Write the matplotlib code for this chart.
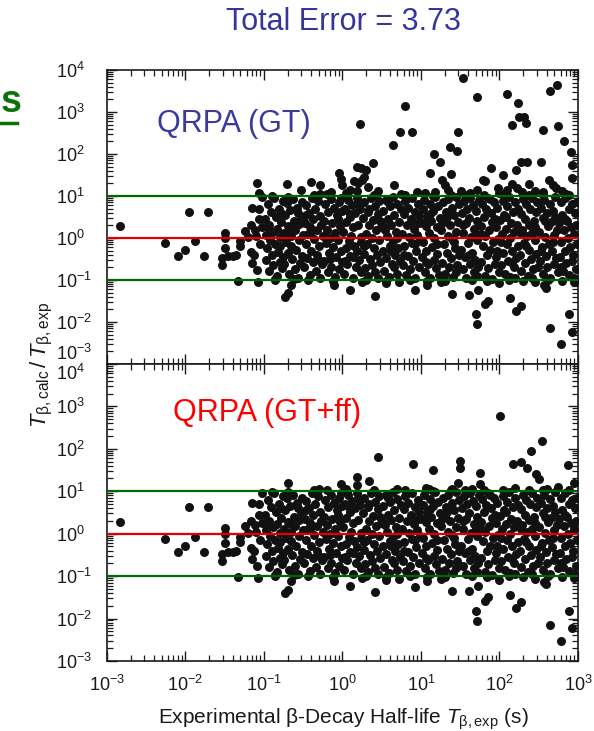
import numpy as np
import matplotlib
matplotlib.use('Agg')
import matplotlib.pyplot as plt
from matplotlib.ticker import LogLocator, NullFormatter

plt.rcParams['font.family'] = ['Liberation Sans', 'DejaVu Sans']
plt.rcParams['mathtext.fontset'] = 'custom'
plt.rcParams['mathtext.rm'] = 'Liberation Sans'
plt.rcParams['mathtext.it'] = 'Liberation Sans:italic'
plt.rcParams['mathtext.bf'] = 'Liberation Sans:bold'

# points as (log10 T_exp, log10 T_calc/T_exp)
# short-lived tail at the left, same in both calculations
left_pts = [
    (-2.83, 0.28), (-1.96, 0.62), (-1.71, 0.62), (-2.26, -0.12), (-2.09, -0.42),
    (-2.00, -0.28), (-1.88, -0.08), (-1.77, -0.43), (-1.50, 0.13), (-1.50, 0.00),
    (-1.50, -0.23), (-1.54, -0.47), (-1.54, -0.64), (-1.46, -0.44), (-1.40, -0.42),
    (-1.35, -0.41), (-1.30, -0.08), (-1.30, -0.20), (-1.33, -1.02), (-1.24, 0.17),
    (-1.17, 0.31), (-1.15, 0.72), (-1.16, -0.33), (-1.13, -0.40), (-1.15, -0.60),
    (-1.09, -0.76), (-1.08, -1.04), (-1.06, 0.70), (-1.06, 0.45), (-1.10, 0.05),
    (-1.05, -0.15), (-1.03, 0.25), (-1.12, 0.20), (-1.20, 0.02), (-1.02, 0.97),
]

# the dense band between 0.1 and 10
band_pts = [
    (-0.99, 0.45), (-0.98, -0.52), (-0.97, 0.08), (-0.96, -0.25), (-0.95, 0.80), (-0.94, -0.78),
    (-0.93, 0.30), (-0.92, -0.05), (-0.91, 0.62), (-0.90, -0.40), (-0.89, 0.15), (-0.88, -0.65),
    (-0.87, 0.95), (-0.86, -0.15), (-0.85, 0.50), (-0.84, -0.90), (-0.83, 0.22), (-0.82, -0.33),
    (-0.81, 0.70), (-0.80, -0.58), (-0.79, 0.02), (-0.78, 0.38), (-0.77, -0.72), (-0.76, 0.88),
    (-0.86, -0.98), (-0.90, 0.99), (-0.80, -0.20), (-0.95, 0.25), (-0.76, -0.45), (-0.78, 0.60),
    (-0.75, 0.12), (-0.74, -0.62), (-0.73, 0.55), (-0.72, -0.10), (-0.71, 0.83), (-0.70, -0.35),
    (-0.69, 0.28), (-0.68, -0.85), (-0.67, 0.66), (-0.66, -0.18), (-0.65, 0.04), (-0.64, -0.50),
    (-0.63, 0.92), (-0.62, 0.40), (-0.61, -0.75), (-0.60, 0.18), (-0.59, -0.28), (-0.58, 0.72),
    (-0.57, -0.95), (-0.56, 0.33), (-0.55, -0.05), (-0.54, -0.60), (-0.53, 0.50), (-0.52, 0.85),
    (-0.51, -0.42), (-0.50, 0.08), (-0.70, 0.98), (-0.62, -0.98), (-0.57, 0.60), (-0.66, 0.22),
    (-0.49, -0.70), (-0.48, 0.35), (-0.47, -0.15), (-0.46, 0.78), (-0.45, -0.48), (-0.44, 0.10),
    (-0.43, 0.60), (-0.42, -0.88), (-0.41, 0.25), (-0.40, -0.30), (-0.39, 0.95), (-0.38, -0.58),
    (-0.37, 0.45), (-0.36, -0.02), (-0.35, 0.70), (-0.34, -0.78), (-0.33, 0.18), (-0.32, -0.40),
    (-0.31, 0.88), (-0.30, -0.20), (-0.29, 0.52), (-0.28, -0.95), (-0.27, 0.30), (-0.26, -0.62),
    (-0.25, 0.05), (-0.44, -1.00), (-0.36, 1.02), (-0.30, -0.52), (-0.47, 0.55), (-0.40, 0.15),
    (-0.24, 0.40), (-0.23, -0.55), (-0.22, 0.80), (-0.21, -0.12), (-0.20, 0.20), (-0.19, -0.82),
    (-0.18, 0.62), (-0.17, -0.35), (-0.16, 0.00), (-0.15, 0.92), (-0.14, -0.68), (-0.13, 0.35),
    (-0.12, -0.22), (-0.11, 0.72), (-0.10, -0.92), (-0.09, 0.12), (-0.08, -0.45), (-0.07, 0.55),
    (-0.06, -0.05), (-0.05, 0.85), (-0.04, -0.75), (-0.03, 0.28), (-0.02, -0.30), (-0.01, 0.65),
    (0.00, -0.58), (-0.20, 1.04), (-0.12, -1.02), (-0.06, 0.45), (-0.16, -0.50), (-0.02, 0.95),
    (0.01, 0.15), (0.02, -0.85), (0.03, 0.70), (0.04, -0.25), (0.05, 0.38), (0.06, -0.62),
    (0.07, 0.90), (0.08, -0.08), (0.09, 0.50), (0.10, -0.42), (0.11, 0.05), (0.12, 0.78),
    (0.13, -0.95), (0.14, 0.25), (0.15, -0.18), (0.16, 0.60), (0.17, -0.70), (0.18, 0.95),
    (0.19, -0.32), (0.20, 0.32), (0.21, -0.52), (0.22, 0.68), (0.23, 0.02), (0.24, -0.80),
    (0.06, 1.00), (0.14, -0.45), (0.20, 0.82), (0.10, 0.58), (0.23, -0.10), (0.03, -0.55),
    (0.26, 0.48), (0.27, -0.38), (0.28, 0.85), (0.29, -0.72), (0.30, 0.10), (0.31, -0.15),
    (0.32, 0.62), (0.33, -0.90), (0.34, 0.30), (0.35, -0.50), (0.36, 0.95), (0.37, 0.00),
    (0.38, -0.65), (0.39, 0.42), (0.40, -0.25), (0.41, 0.75), (0.42, -0.82), (0.43, 0.18),
    (0.44, -0.40), (0.45, 0.58), (0.46, -0.05), (0.47, 0.88), (0.48, -0.58), (0.49, 0.25),
    (0.30, -1.00), (0.40, 1.03), (0.34, 0.70), (0.45, -0.95), (0.28, -0.20), (0.48, 0.40),
    (0.51, -0.30), (0.52, 0.65), (0.53, -0.78), (0.54, 0.20), (0.55, 0.90), (0.56, -0.48),
    (0.57, 0.05), (0.58, 0.45), (0.59, -0.92), (0.60, 0.75), (0.61, -0.18), (0.62, 0.32),
    (0.63, -0.62), (0.64, 0.98), (0.65, -0.08), (0.66, 0.55), (0.67, -0.40), (0.68, 0.15),
    (0.69, -0.85), (0.70, 0.82), (0.71, -0.25), (0.72, 0.38), (0.73, -0.55), (0.74, 0.68),
    (0.55, -1.02), (0.62, -0.30), (0.70, 0.00), (0.58, 0.85), (0.66, -0.70), (0.52, 0.28),
    (0.76, 0.10), (0.77, -0.65), (0.78, 0.58), (0.79, -0.20), (0.80, 0.88), (0.81, -0.88),
    (0.82, 0.30), (0.83, -0.42), (0.84, 0.72), (0.85, 0.02), (0.86, -0.75), (0.87, 0.45),
    (0.88, -0.12), (0.89, 0.95), (0.90, -0.55), (0.91, 0.22), (0.92, -0.95), (0.93, 0.62),
    (0.94, -0.32), (0.95, 0.08), (0.96, 0.80), (0.97, -0.68), (0.98, 0.35), (0.99, -0.05),
    (0.80, 1.02), (0.86, -1.00), (0.93, -0.15), (0.78, -0.40), (0.97, 0.52), (0.88, 0.40),
    (1.01, -0.45), (1.02, 0.68), (1.03, -0.10), (1.04, 0.90), (1.05, -0.80), (1.06, 0.28),
    (1.07, -0.30), (1.08, 0.52), (1.09, -0.62), (1.10, 0.12), (1.11, 0.82), (1.12, -0.95),
    (1.13, 0.40), (1.14, -0.22), (1.15, 0.65), (1.16, -0.52), (1.17, 0.00), (1.18, 0.98),
    (1.19, -0.72), (1.20, 0.25), (1.21, -0.38), (1.22, 0.75), (1.23, -0.88), (1.24, 0.48),
    (1.08, -1.02), (1.15, 1.00), (1.03, 0.35), (1.20, -0.15), (1.12, 0.58), (1.06, -0.58),
    (1.26, 0.18), (1.27, -0.60), (1.28, 0.85), (1.29, -0.15), (1.30, 0.42), (1.31, -0.85),
    (1.32, 0.62), (1.33, -0.35), (1.34, 0.05), (1.35, 0.92), (1.36, -0.70), (1.37, 0.30),
    (1.38, -0.48), (1.39, 0.72), (1.40, -0.02), (1.41, -0.92), (1.42, 0.55), (1.43, -0.25),
    (1.44, 0.98), (1.45, 0.15), (1.46, -0.65), (1.47, 0.38), (1.48, -0.40), (1.49, 0.80),
    (1.30, -1.03), (1.38, 1.02), (1.45, -0.80), (1.33, 0.50), (1.27, 0.35), (1.42, -0.10),
    (1.51, -0.28), (1.52, 0.60), (1.53, -0.75), (1.54, 0.12), (1.55, 0.88), (1.56, -0.45),
    (1.57, 0.35), (1.58, -0.95), (1.59, 0.70), (1.60, -0.12), (1.61, 0.48), (1.62, -0.62),
    (1.63, 0.95), (1.64, 0.02), (1.65, -0.35), (1.66, 0.78), (1.67, -0.82), (1.68, 0.22),
    (1.69, -0.52), (1.70, 0.65), (1.71, -0.05), (1.72, 0.40), (1.73, -0.70), (1.74, 0.90),
    (1.56, 1.02), (1.65, -1.00), (1.70, 0.10), (1.53, 0.30), (1.61, -0.40), (1.72, -0.90),
    (1.76, 0.28), (1.77, -0.58), (1.78, 0.82), (1.79, -0.18), (1.80, 0.50), (1.81, -0.90),
    (1.82, 0.05), (1.83, 0.68), (1.84, -0.40), (1.85, 0.95), (1.86, -0.72), (1.87, 0.18),
    (1.88, -0.28), (1.89, 0.60), (1.90, -0.98), (1.91, 0.38), (1.92, -0.10), (1.93, 0.85),
    (1.94, -0.62), (1.95, 0.25), (1.96, -0.45), (1.97, 0.72), (1.98, -0.02), (1.99, -0.80),
    (1.80, 1.03), (1.88, 0.92), (1.94, 0.45), (1.84, -1.02), (1.77, 0.10), (1.97, -0.30),
    (2.01, 0.42), (2.02, -0.65), (2.03, 0.10), (2.04, 0.88), (2.05, -0.35), (2.06, 0.55),
    (2.07, -0.85), (2.08, 0.22), (2.09, -0.15), (2.10, 0.75), (2.11, -0.55), (2.12, 0.98),
    (2.13, 0.00), (2.14, -0.92), (2.15, 0.35), (2.16, -0.30), (2.17, 0.62), (2.18, -0.70),
    (2.19, 0.15), (2.20, 0.85), (2.21, -0.48), (2.22, 0.30), (2.23, -0.20), (2.24, 0.68),
    (2.05, 1.02), (2.12, -1.00), (2.20, -0.95), (2.08, 0.50), (2.16, -0.60), (2.02, -0.10),
    (2.26, -0.40), (2.27, 0.58), (2.28, -0.78), (2.29, 0.20), (2.30, 0.92), (2.31, -0.12),
    (2.32, 0.45), (2.33, -0.60), (2.34, 0.80), (2.35, 0.05), (2.36, -0.90), (2.37, 0.32),
    (2.38, -0.28), (2.39, 0.70), (2.40, -0.50), (2.41, 0.12), (2.42, 0.95), (2.43, -0.75),
    (2.44, 0.40), (2.45, -0.05), (2.46, 0.62), (2.47, -0.38), (2.48, 0.85), (2.49, -0.68),
    (2.30, -1.02), (2.38, 1.03), (2.45, 0.25), (2.34, -0.20), (2.27, 0.10), (2.42, -0.95),
    (2.51, 0.15), (2.52, -0.55), (2.53, 0.72), (2.54, -0.22), (2.55, 0.48), (2.56, -0.85),
    (2.57, 0.90), (2.58, 0.02), (2.59, -0.42), (2.60, 0.60), (2.61, -0.70), (2.62, 0.28),
    (2.63, -0.15), (2.64, 0.82), (2.65, -0.95), (2.66, 0.38), (2.67, -0.32), (2.68, 0.65),
    (2.69, 0.08), (2.70, -0.62), (2.71, 0.98), (2.72, -0.48), (2.73, 0.20), (2.74, -0.80),
    (2.55, 1.02), (2.62, -1.00), (2.68, -0.10), (2.58, 0.40), (2.71, 0.50), (2.53, -0.30),
    (2.76, 0.35), (2.77, -0.45), (2.78, 0.85), (2.79, -0.10), (2.80, 0.55), (2.81, -0.78),
    (2.82, 0.18), (2.83, -0.30), (2.84, 0.95), (2.85, -0.60), (2.86, 0.40), (2.87, 0.00),
    (2.88, -0.88), (2.89, 0.70), (2.90, -0.22), (2.91, 0.25), (2.92, -0.55), (2.93, 0.80),
    (2.94, -0.40), (2.95, 0.10), (2.96, 0.60), (2.97, -0.75), (2.98, 0.30), (2.99, -0.15),
    (2.80, -1.02), (2.88, 1.02), (2.95, -0.95), (2.84, 0.45), (2.78, -0.70), (2.99, 0.85),
]

# too-short predictions (below 0.1), same in both calculations
low_pts = [
    (-0.86, -1.00), (-0.73, -1.40), (-0.70, -1.32), (-0.66, -1.12), (-0.11, -1.12),
    (0.10, -1.24), (0.42, -1.37), (0.55, -1.08), (0.93, -1.25), (1.08, -1.12),
    (1.40, -1.34), (1.61, -1.36), (1.73, -1.24), (1.81, -1.58), (1.85, -1.50),
    (1.70, -1.82), (1.71, -2.06), (2.14, -1.44), (2.21, -1.74), (2.27, -1.61),
    (2.59, -1.19), (2.57, -1.13), (2.89, -1.82), (2.93, -2.23), (2.65, -2.15),
    (2.79, -2.53), (0.25, -1.05), (0.72, -1.06), (1.25, -1.06), (2.00, -1.08),
    (2.45, -1.06), (2.95, -1.05),
]

# too-long predictions, GT only
gt_high_pts = [
    (-1.09, 1.30), (-1.06, 1.07), (-0.71, 1.28), (-0.40, 1.34), (-0.28, 1.26),
    (-0.53, 1.14), (-0.29, 1.05), (-0.05, 1.55), (-0.02, 1.40), (0.00, 1.26),
    (0.19, 1.70), (0.23, 1.66), (0.30, 1.62), (0.39, 1.79), (0.33, 1.22),
    (0.66, 1.26), (0.22, 2.71), (0.80, 3.15), (0.73, 2.53), (0.89, 2.53),
    (0.64, 2.21), (0.15, 1.35), (0.20, 1.30), (0.25, 1.38), (0.28, 1.45),
    (0.10, 1.15), (0.18, 1.12), (0.05, 1.08), (0.45, 1.12), (-0.15, 1.10),
    (0.75, 1.05), (0.95, 1.10), (1.54, 3.80), (1.72, 3.35), (2.10, 3.42),
    (2.23, 3.21), (2.25, 2.89), (2.31, 2.89), (2.34, 2.74), (2.16, 2.69),
    (2.65, 3.49), (2.73, 3.63), (2.56, 2.56), (2.75, 2.67), (2.82, 2.31),
    (2.91, 2.05), (2.93, 1.74), (2.93, 1.42), (1.47, 2.53), (1.37, 2.17),
    (1.46, 2.07), (1.17, 1.99), (1.24, 1.80), (1.12, 1.54), (1.38, 1.52),
    (1.27, 1.38), (1.30, 1.26), (1.34, 1.14), (1.51, 1.12), (1.89, 1.66),
    (2.04, 1.50), (1.79, 1.38), (1.81, 1.35), (2.27, 1.82), (2.35, 1.82),
    (2.21, 1.62), (2.53, 1.82), (1.98, 1.20), (2.10, 1.15), (2.16, 1.28),
    (2.22, 1.18), (2.29, 1.10), (2.38, 1.29), (2.63, 1.38), (2.68, 1.25),
    (2.72, 1.19), (2.85, 1.05), (1.62, 1.08), (1.72, 1.15), (2.45, 1.12),
    (2.00, 1.08), (1.05, 1.08), (1.18, 1.10), (2.55, 1.10), (2.80, 1.12),
]

# too-long predictions, GT+ff only
ff_high_pts = [
    (0.45, 1.81), (0.90, 1.64), (-0.69, 1.20), (-0.02, 1.18), (0.18, 1.34),
    (0.19, 1.14), (0.34, 1.25), (2.01, 2.78), (2.54, 2.18), (2.40, 1.95),
    (2.17, 1.64), (2.27, 1.70), (2.35, 1.55), (2.47, 1.40), (2.50, 1.30),
    (2.87, 1.62), (1.50, 1.72), (1.50, 1.55), (1.15, 1.50), (1.75, 1.42),
    (1.75, 1.16), (1.47, 1.20), (1.07, 1.08), (1.10, 1.05), (1.40, 1.05),
    (1.65, 1.06), (2.20, 1.08), (2.60, 1.05), (0.70, 1.05), (0.05, 1.06),
    (-0.30, 1.05), (2.75, 1.10), (2.95, 1.20),
]

panels = [
    ('QRPA (GT)', '#3a3a9c', left_pts + band_pts + low_pts + gt_high_pts),
    ('QRPA (GT+ff)', '#ff0000', left_pts + band_pts + low_pts + ff_high_pts),
]

fig = plt.figure(figsize=(5.94, 7.31), dpi=100)
ax_top = fig.add_axes([0.1801, 0.5021, 0.7929, 0.4022])
ax_bot = fig.add_axes([0.1801, 0.0958, 0.7929, 0.4063])
yticks = 10.0 ** np.arange(-3, 5)
xticks = 10.0 ** np.arange(-3, 4)

for ax, (name, col, pts), tx, ty in zip([ax_top, ax_bot], panels, [0.106, 0.140], [0.816, 0.835]):
    lx, ly = np.array(pts).T
    ax.scatter(10 ** lx, 10 ** ly, s=42, c='#111111', linewidths=0, zorder=3)
    ax.axhline(10, color='#006600', lw=1.6, zorder=4)
    ax.axhline(1, color='#e00000', lw=1.6, zorder=4)
    ax.axhline(0.1, color='#006600', lw=1.6, zorder=4)
    ax.set_xscale('log')
    ax.set_yscale('log')
    ax.set_xlim(1e-3, 1e3)
    ax.set_ylim(1e-3, 1e4)
    ax.set_xticks(xticks)
    ax.set_yticks(yticks)
    ax.set_yticklabels([r'$10^{%d}$' % k for k in range(-3, 5)])
    ax.set_xticklabels([r'$10^{%d}$' % k for k in range(-3, 4)])
    ax.xaxis.set_minor_locator(LogLocator(10, subs=np.arange(2, 10), numticks=100))
    ax.yaxis.set_minor_locator(LogLocator(10, subs=np.arange(2, 10), numticks=100))
    ax.xaxis.set_minor_formatter(NullFormatter())
    ax.yaxis.set_minor_formatter(NullFormatter())
    ax.tick_params(which='both', direction='in', top=True, right=True,
                   labelsize=13, colors='#1a1a1a')
    ax.tick_params(which='major', length=7, width=1.0)
    ax.tick_params(which='minor', length=4.5, width=0.9)
    ax.tick_params(axis='y', pad=37)
    ax.tick_params(axis='x', pad=10)
    for lab in ax.get_yticklabels():
        lab.set_horizontalalignment('left')
    for s in ax.spines.values():
        s.set_linewidth(1.2)
        s.set_color('#1a1a1a')
    ax.text(tx, ty, name, color=col, fontsize=22,
            ha='left', va='center', transform=ax.transAxes)

ax_top.tick_params(axis='x', labelbottom=False)
ax_top.get_yticklabels()[0].set_verticalalignment('bottom')
ax_bot.get_yticklabels()[-1].set_verticalalignment('top')

fig.text(343 / 594, 1 - 22 / 731, 'Total Error = 3.73', color='#35359a',
         fontsize=22, ha='center', va='center')
fig.text(343 / 594, 1 - 719 / 731,
         r'Experimental β-Decay Half-life $T_{\mathrm{β,exp}}$ (s)',
         fontsize=15, ha='center', va='center', color='#1a1a1a')
fig.text(42 / 594, 1 - 365 / 731,
         r'$T_{\mathrm{β,calc}}\,/\,T_{\mathrm{β,exp}}$',
         fontsize=16, rotation=90, ha='center', va='center', color='#1a1a1a')

# slide heading letter on the left edge
fig.text(1 / 594, 1 - 102 / 731, 's', color='#0a720a', fontsize=27,
         fontweight='bold', ha='left', va='center')
fig.add_artist(plt.Line2D([0, 17 / 594], [1 - 123 / 731] * 2, color='#0a720a', lw=2.5))

fig.savefig('out.png', dpi=100)
